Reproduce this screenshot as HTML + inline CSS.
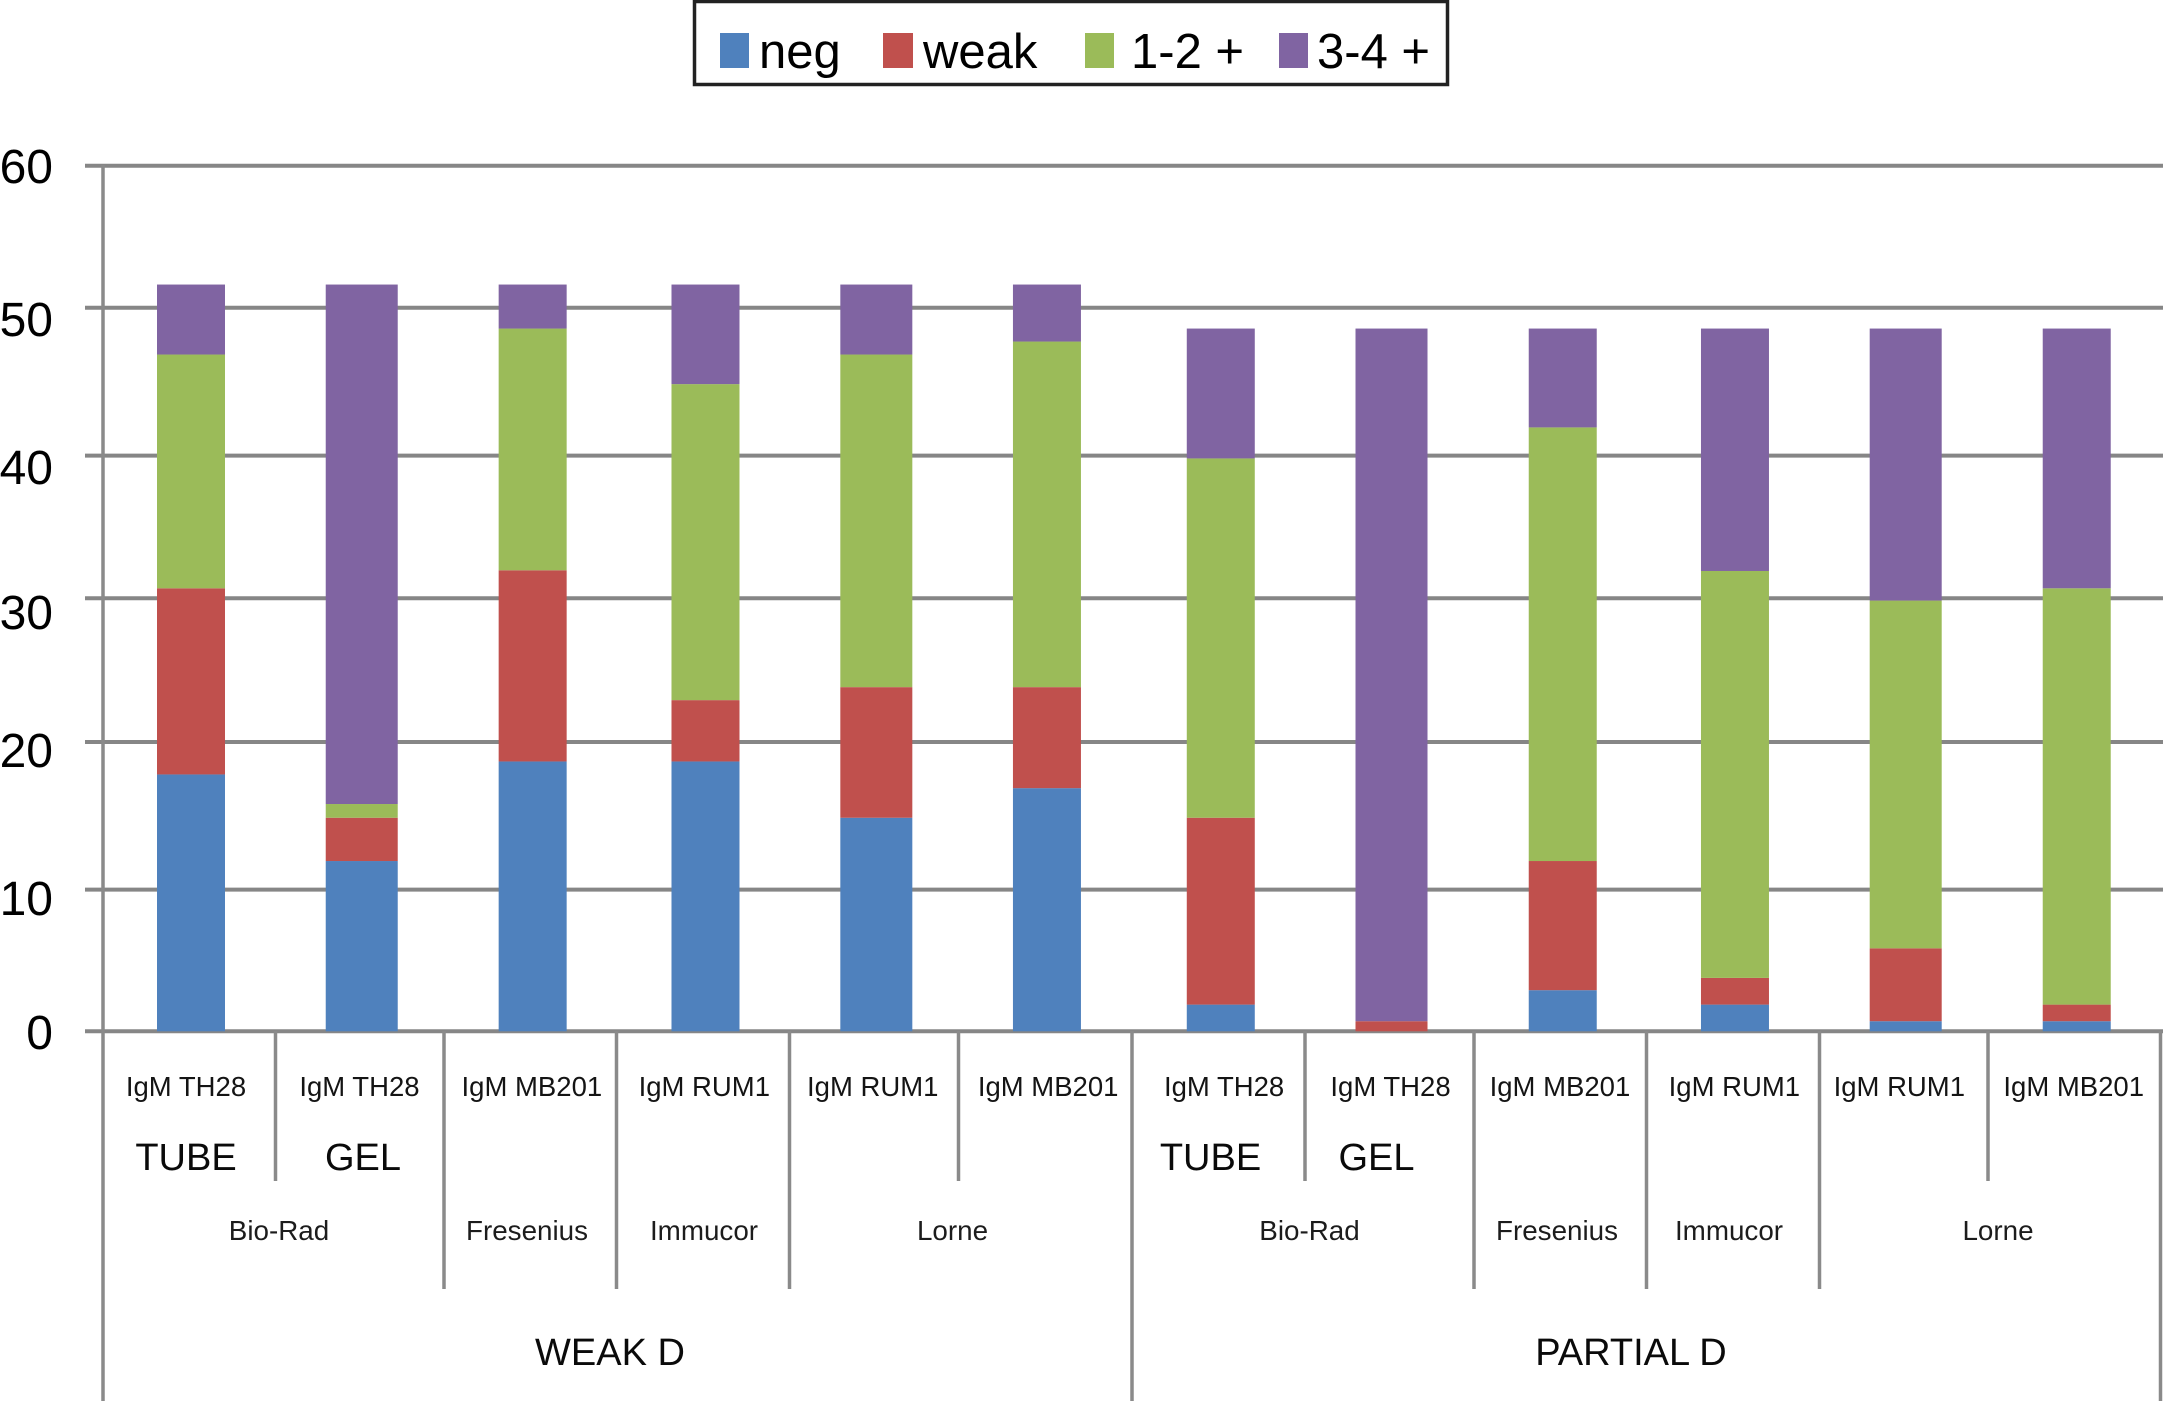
<!DOCTYPE html>
<html lang="en">
<head>
<meta charset="utf-8">
<title>Stacked bar chart: weak D and partial D reactivity</title>
<style>
html,body{margin:0;padding:0;background:#fff;}
body{width:2163px;height:1401px;overflow:hidden;}
svg{display:block;}
text{font-family:"Liberation Sans",Arial,sans-serif;fill:#0a0a0a;}
.mid{text-anchor:middle;}
.rule{stroke:#8a8a8a;stroke-width:3.5;fill:none;}
.cat{font-size:27.5px;fill:#141414;}
.method{font-size:38px;}
.maker{font-size:27.8px;fill:#1c1c1c;}
.group{font-size:38px;}
.legend-text{font-size:49px;fill:#000;}
.tick{font-size:48px;fill:#000;text-anchor:end;}
</style>
</head>
<body>
<svg id="chart" xmlns="http://www.w3.org/2000/svg" width="2163" height="1401" viewBox="0 0 2163 1401">
  <rect x="0" y="0" width="2163" height="1401" fill="#fff"/>

  <g id="grid"></g>
  <g id="bars"></g>
  <g id="yticks"></g>
  <g id="xlabels"></g>

  <g>
    <line class="rule" x1="103" y1="165" x2="103" y2="1401"/>
    <line class="rule" x1="2160.5" y1="1031" x2="2160.5" y2="1401"/>
    <line class="rule" x1="275.5" y1="1031" x2="275.5" y2="1181"/>
    <line class="rule" x1="444" y1="1031" x2="444" y2="1289"/>
    <line class="rule" x1="616.5" y1="1031" x2="616.5" y2="1289"/>
    <line class="rule" x1="789.5" y1="1031" x2="789.5" y2="1289"/>
    <line class="rule" x1="958.5" y1="1031" x2="958.5" y2="1181"/>
    <line class="rule" x1="1132" y1="1031" x2="1132" y2="1401"/>
    <line class="rule" x1="1305" y1="1031" x2="1305" y2="1181"/>
    <line class="rule" x1="1474" y1="1031" x2="1474" y2="1289"/>
    <line class="rule" x1="1646.5" y1="1031" x2="1646.5" y2="1289"/>
    <line class="rule" x1="1819.5" y1="1031" x2="1819.5" y2="1289"/>
    <line class="rule" x1="1988" y1="1031" x2="1988" y2="1181"/>
  </g>

  <g>
    <text class="method mid" x="186" y="1170">TUBE</text>
    <text class="method mid" x="363" y="1170">GEL</text>
    <text class="method mid" x="1210.5" y="1170">TUBE</text>
    <text class="method mid" x="1376.5" y="1170">GEL</text>
  </g>

  <g>
    <text class="maker mid" x="279" y="1240">Bio-Rad</text>
    <text class="maker mid" x="527" y="1240">Fresenius</text>
    <text class="maker mid" x="704" y="1240">Immucor</text>
    <text class="maker mid" x="952.5" y="1240">Lorne</text>
    <text class="maker mid" x="1309.5" y="1240">Bio-Rad</text>
    <text class="maker mid" x="1557" y="1240">Fresenius</text>
    <text class="maker mid" x="1729" y="1240">Immucor</text>
    <text class="maker mid" x="1998" y="1240">Lorne</text>
  </g>

  <g>
    <text class="group mid" x="610" y="1365">WEAK D</text>
    <text class="group mid" x="1631" y="1365">PARTIAL D</text>
  </g>

  <g>
    <rect x="694.5" y="1.5" width="753" height="83" fill="#fff" stroke="#222" stroke-width="3.5"/>
    <g>
      <rect x="720" y="33" width="29" height="35" fill="#4F81BD"/>
      <text class="legend-text" x="759" y="68">neg</text>
    </g>
    <g>
      <rect x="883" y="33" width="30" height="35" fill="#C0504D"/>
      <text class="legend-text" x="923" y="68">weak</text>
    </g>
    <g>
      <rect x="1085" y="33" width="29" height="35" fill="#9BBB59"/>
      <text class="legend-text" x="1131" y="68">1-2 +</text>
    </g>
    <g>
      <rect x="1279" y="33" width="29" height="35" fill="#8064A2"/>
      <text class="legend-text" x="1317" y="68">3-4 +</text>
    </g>
  </g>
</svg>

<script>
// ---- chart data ----
const categories = ["IgM TH28","IgM TH28","IgM MB201","IgM RUM1","IgM RUM1","IgM MB201",
                    "IgM TH28","IgM TH28","IgM MB201","IgM RUM1","IgM RUM1","IgM MB201"];
const negValues    = [17.8,11.8,18.7,18.7,14.8,16.85,1.85,0,2.85,1.85,0.7,0.7];
const weakValues   = [12.9,3,13.25,4.25,9.05,7,12.95,0.7,8.95,1.85,5.05,1.15];
const lowPosValues = [16.2,0.95,16.75,21.9,23.05,23.95,24.9,0,30.05,28.2,24.1,28.85];
const highPosValues= [4.85,36,3.05,6.9,4.85,3.95,9,48,6.85,16.8,18.85,18];
const yTicks = [0,10,20,30,40,50,60];
const yTickLabels = ["0","10","20","30","40","50","60"];

// ---- layout ----
const SVGNS = "http://www.w3.org/2000/svg";
const PLOT_ZERO = 1031.3, PX_PER_UNIT = 14.43;
const BAND_START = 191, BAND_STEP = 171.43;
function yScale(v){ return PLOT_ZERO - v * PX_PER_UNIT; }
function xBand(i){ return BAND_START + BAND_STEP * i; }
function barWidth(i){ return i % 3 === 1 ? 72 : 68; }

// The source figure is a slightly uneven raster: small per-tick, per-bar and per-label offsets.
const gridOffset = [0,2.6,-0.7,-0.2,1.5,-2,0.2];
const tickTextOffset = [17.7,28,24.3,30.6,29.9,26.2,17.5];
const catTextOffset = [-5,-3,-2,-1,-4,0,4.5,-0.5,-2.5,0.5,-6,-3];
const barOffset = [0,-0.7,-1.2,0.2,-0.4,-1.2,1.2,0.5,0.3,1.1,0.4,0];
const seriesStyle = [
  {key:"neg", color:"#4F81BD"},
  {key:"weak", color:"#C0504D"},
  {key:"1-2-plus", color:"#9BBB59"},
  {key:"3-4-plus", color:"#8064A2"}
];
const seriesValues = [negValues, weakValues, lowPosValues, highPosValues];

// gridlines and y tick labels
const gridGroup = document.getElementById("grid");
const tickGroup = document.getElementById("yticks");
yTicks.forEach(function(t, k){
  const y = yScale(t);
  const line = document.createElementNS(SVGNS, "line");
  line.setAttribute("x1", 85);
  line.setAttribute("x2", 2163);
  line.setAttribute("y1", y + gridOffset[k]);
  line.setAttribute("y2", y + gridOffset[k]);
  line.setAttribute("stroke", "#868686");
  line.setAttribute("stroke-width", "4");
  
  
  gridGroup.appendChild(line);

  const label = document.createElementNS(SVGNS, "text");
  label.setAttribute("class", "tick");
  label.setAttribute("x", 53);
  label.setAttribute("y", y + tickTextOffset[k]);
  label.textContent = yTickLabels[k];
  
  
  tickGroup.appendChild(label);
});

// stacked bars
const barGroup = document.getElementById("bars");
categories.forEach(function(cat, i){
  const w = barWidth(i);
  const left = xBand(i) + barOffset[i] - w / 2;
  let base = 0;
  seriesValues.forEach(function(values, s){
    const v = values[i];
    const top = base + v;
    if (v > 0) {
      const rect = document.createElementNS(SVGNS, "rect");
      rect.setAttribute("x", left);
      rect.setAttribute("width", w);
      rect.setAttribute("y", yScale(top));
      rect.setAttribute("height", yScale(base) - yScale(top));
      rect.setAttribute("fill", seriesStyle[s].color);
      
      
      barGroup.appendChild(rect);
    }
    base = top;
  });
});

// category labels
const catGroup = document.getElementById("xlabels");
categories.forEach(function(cat, i){
  const label = document.createElementNS(SVGNS, "text");
  label.setAttribute("class", "cat mid");
  label.setAttribute("x", xBand(i) + catTextOffset[i]);
  label.setAttribute("y", 1096);
  label.textContent = cat;
  
  
  catGroup.appendChild(label);
});
</script>
</body>
</html>
